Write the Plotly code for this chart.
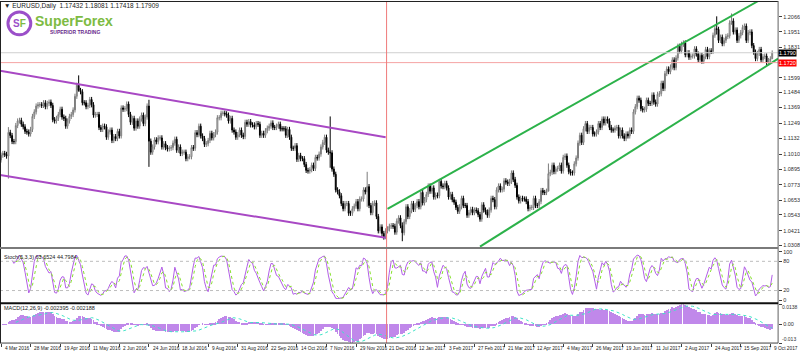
import numpy as np
import pandas as pd
import plotly.graph_objects as go

# ---------------- data (daily EURUSD) ----------------
closes = [
    1.1002,
    1.1015, 1.1008, 1.0995, 1.1177, 1.1153,
    1.1107, 1.1106, 1.1230, 1.1265, 1.1270,
    1.1240, 1.1220, 1.1185, 1.1180, 1.1165,
    1.1200, 1.1300, 1.1335, 1.1380, 1.1390,
    1.1390, 1.1385, 1.1405, 1.1375, 1.1400,
    1.1410, 1.1385, 1.1275, 1.1265, 1.1285,
    1.1315, 1.1355, 1.1295, 1.1285, 1.1225,
    1.1265, 1.1300, 1.1315, 1.1350, 1.1455,
    1.1540, 1.1500, 1.1490, 1.1405, 1.1405,
    1.1375, 1.1385, 1.1430, 1.1390, 1.1310,
    1.1315, 1.1315, 1.1215, 1.1200, 1.1225,
    1.1220, 1.1140, 1.1180, 1.1195, 1.1115,
    1.1145, 1.1130, 1.1185, 1.1150, 1.1365,
    1.1355, 1.1360, 1.1395, 1.1315, 1.1255,
    1.1285, 1.1210, 1.1265, 1.1225, 1.1280,
    1.1310, 1.1245, 1.1295, 1.1380, 1.1110,
    1.1025, 1.1065, 1.1120, 1.1105, 1.1135,
    1.1135, 1.1065, 1.1090, 1.1060, 1.1050,
    1.1055, 1.1060, 1.1095, 1.1125, 1.1040,
    1.1065, 1.1015, 1.1025, 1.1025, 1.0975,
    1.0990, 1.0990, 1.1060, 1.1055, 1.1175,
    1.1160, 1.1225, 1.1150, 1.1130, 1.1085,
    1.1090, 1.1115, 1.1170, 1.1135, 1.1160,
    1.1180, 1.1290, 1.1290, 1.1325, 1.1325,
    1.1320, 1.1310, 1.1265, 1.1285, 1.1195,
    1.1180, 1.1140, 1.1160, 1.1195, 1.1155,
    1.1145, 1.1255, 1.1240, 1.1260, 1.1235,
    1.1235, 1.1220, 1.1245, 1.1240, 1.1155,
    1.1170, 1.1155, 1.1190, 1.1210, 1.1225,
    1.1250, 1.1215, 1.1215, 1.1225, 1.1240,
    1.1205, 1.1205, 1.1205, 1.1155, 1.1200,
    1.1140, 1.1055, 1.1055, 1.1075, 1.0970,
    1.1000, 1.0975, 1.0975, 1.0930, 1.0885,
    1.0880, 1.0890, 1.0925, 1.0900, 1.0985,
    1.0980, 1.1010, 1.1065, 1.1100, 1.1140,
    1.1040, 1.1025, 1.1020, 1.0895, 1.0855,
    1.0735, 1.0720, 1.0690, 1.0630, 1.0590,
    1.0630, 1.0630, 1.0555, 1.0555, 1.0590,
    1.0610, 1.0645, 1.0590, 1.0665, 1.0665,
    1.0735, 1.0720, 1.0760, 1.0615, 1.0560,
    1.0630, 1.0635, 1.0530, 1.0420, 1.0450,
    1.0400, 1.0375, 1.0420, 1.0435, 1.0455,
    1.0460, 1.0455, 1.0410, 1.0495, 1.0520,
    1.0460, 1.0405, 1.0490, 1.0605, 1.0530,
    1.0575, 1.0630, 1.0585, 1.0615, 1.0645,
    1.0605, 1.0715, 1.0635, 1.0660, 1.0700,
    1.0765, 1.0725, 1.0750, 1.0680, 1.0695,
    1.0690, 1.0800, 1.0765, 1.0760, 1.0785,
    1.0750, 1.0680, 1.0700, 1.0660, 1.0640,
    1.0600, 1.0570, 1.0605, 1.0670, 1.0615,
    1.0615, 1.0540, 1.0560, 1.0585, 1.0560,
    1.0580, 1.0575, 1.0545, 1.0510, 1.0620,
    1.0580, 1.0565, 1.0540, 1.0580, 1.0670,
    1.0660, 1.0605, 1.0735, 1.0765, 1.0735,
    1.0740, 1.0805, 1.0795, 1.0785, 1.0800,
    1.0865, 1.0815, 1.0770, 1.0680, 1.0650,
    1.0670, 1.0665, 1.0665, 1.0645, 1.0590,
    1.0600, 1.0600, 1.0670, 1.0615, 1.0615,
    1.0645, 1.0730, 1.0715, 1.0715, 1.0725,
    1.0860, 1.0870, 1.0925, 1.0875, 1.0895,
    1.0900, 1.0925, 1.0880, 1.0985, 1.0995,
    1.0925, 1.0875, 1.0865, 1.0865, 1.0935,
    1.0980, 1.1095, 1.1155, 1.1100, 1.1205,
    1.1245, 1.1185, 1.1215, 1.1215, 1.1165,
    1.1165, 1.1180, 1.1245, 1.1215, 1.1280,
    1.1250, 1.1280, 1.1265, 1.1215, 1.1195,
    1.1195, 1.1210, 1.1215, 1.1150, 1.1195,
    1.1150, 1.1130, 1.1165, 1.1150, 1.1195,
    1.1185, 1.1335, 1.1375, 1.1440, 1.1425,
    1.1360, 1.1350, 1.1355, 1.1425, 1.1400,
    1.1400, 1.1465, 1.1410, 1.1395, 1.1470,
    1.1475, 1.1555, 1.1515, 1.1630, 1.1665,
    1.1645, 1.1680, 1.1735, 1.1675, 1.1750,
    1.1840, 1.1805, 1.1855, 1.1865, 1.1775,
    1.1790, 1.1755, 1.1765, 1.1765, 1.1820,
    1.1780, 1.1735, 1.1770, 1.1725, 1.1760,
    1.1815, 1.1760, 1.1805, 1.1800, 1.1925,
    1.1975, 1.1970, 1.1885, 1.1910, 1.1860,
    1.1885, 1.1915, 1.1920, 1.2020, 1.2035,
    1.1950, 1.1965, 1.1885, 1.1920, 1.1945,
    1.1985, 1.1995, 1.1885, 1.1945, 1.1950,
    1.1845, 1.1795, 1.1745, 1.1785, 1.1815,
    1.1735, 1.1760, 1.1765, 1.1715, 1.1730,
    1.1743, 1.17909,
]
first_open = 1.0965
last_open = 1.17432
wick_default = 0.0020
wick_overrides = {  # bar index: (high, low)
    4: (1.1218, 1.0822), 42: (1.1616, 1.1490), 80: (1.1428, 1.0912),
    178: (1.1300, 1.0905), 198: (1.0874, 1.0605), 207: (1.0420, 1.0352),
    217: (1.0485, 1.0340), 296: (1.0938, 1.0820), 387: (1.2070, 1.1930),
    395: (1.2092, 1.2005), 417: (1.18081, 1.17418),
}

x_tick_bars = [16 * i for i in range(27)]
x_tick_text = ["4 Mar 2016", "28 Mar 2016", "19 Apr 2016", "11 May 2016", "2 Jun 2016",
               "24 Jun 2016", "18 Jul 2016", "9 Aug 2016", "31 Aug 2016", "22 Sep 2016",
               "14 Oct 2016", "7 Nov 2016", "29 Nov 2016", "21 Dec 2016", "12 Jan 2017",
               "3 Feb 2017", "27 Feb 2017", "21 Mar 2017", "12 Apr 2017", "4 May 2017",
               "26 May 2017", "19 Jun 2017", "11 Jul 2017", "2 Aug 2017", "24 Aug 2017",
               "15 Sep 2017", "9 Oct 2017"]
price_ticks = [1.0308, 1.0421, 1.0543, 1.0653, 1.0773, 1.0895, 1.1010, 1.1132, 1.1249,
               1.1369, 1.1484, 1.1599, 1.1831, 1.1951, 1.2066]
price_range = [1.0291, 1.2188]
bid_price = 1.1790
red_level = 1.1714
red_label = "1.1720"
separator_bar = 208.5

purple_upper = [(-0.54, 1.1652), (208.0, 1.1140)]
purple_lower = [(-0.54, 1.0849), (208.0, 1.0367)]
green_upper = [(209.0, 1.0589), (409.5, 1.2188)]
green_lower = [(259.0, 1.0298), (420.2, 1.1744)]

header_text = "▼ EURUSD,Daily  1.17432 1.18081 1.17418 1.17909"
stoch_text = "Stoch(5,3,3) 63.6524 44.7984"
macd_text = "MACD(12,26,9) -0.002395 -0.002188"

# ---------------- OHLC construction ----------------
n = len(closes)
bars = list(range(n))
opens = [first_open] + closes[:-1]
opens[-1] = last_open
highs = [max(o, c) + wick_default for o, c in zip(opens, closes)]
lows = [min(o, c) - wick_default for o, c in zip(opens, closes)]
for i, (h, l) in wick_overrides.items():
    highs[i], lows[i] = h, l

H, L, C = pd.Series(highs), pd.Series(lows), pd.Series(closes)
hh, ll = H.rolling(5).max(), L.rolling(5).min()
stoch_k = 100 * (C - ll).rolling(3).sum() / (hh - ll).rolling(3).sum()
stoch_d = stoch_k.rolling(3).mean()
macd = C.ewm(span=12, adjust=False).mean() - C.ewm(span=26, adjust=False).mean()
macd_sig = macd.rolling(9).mean()
macd_max, macd_min = float(macd.max()), float(macd.min())

# ---------------- geometry helpers ----------------
W, Hpx = 800, 353
def py(p):
    return 1 - p / Hpx
def px(p):
    return p / W
XR = 783 / W

fig = go.Figure()
fig.add_trace(go.Candlestick(
    x=bars, open=opens, high=highs, low=lows, close=closes,
    increasing=dict(line=dict(color="#7c7c7c", width=1), fillcolor="white"),
    decreasing=dict(line=dict(color="black", width=1), fillcolor="black"),
    whiskerwidth=0, xaxis="x", yaxis="y", hoverinfo="skip"))
fig.add_trace(go.Scatter(x=bars, y=stoch_k, mode="lines", line=dict(color="#b25ee6", width=1),
                         xaxis="x", yaxis="y2"))
fig.add_trace(go.Scatter(x=bars, y=stoch_d, mode="lines", line=dict(color="#86e02c", width=1, dash="dot"),
                         xaxis="x", yaxis="y2"))
fig.add_trace(go.Bar(x=bars, y=macd, marker=dict(color="#c088ea", line=dict(width=0)), width=0.4,
                     xaxis="x", yaxis="y3"))
fig.add_trace(go.Scatter(x=bars, y=macd_sig, mode="lines", line=dict(color="#3fe3c6", width=1, dash="dot"),
                         xaxis="x", yaxis="y3"))

shapes = []
def seg(pts, color, width=2):
    (x0, y0), (x1, y1) = pts
    shapes.append(dict(type="line", xref="x", yref="y", x0=x0, y0=y0, x1=x1, y1=y1,
                       line=dict(color=color, width=width)))
seg(purple_upper, "#a848c4")
seg(purple_lower, "#a848c4")
seg(green_upper, "#2cb24a")
seg(green_lower, "#2cb24a")
shapes.append(dict(type="line", xref="paper", yref="y", x0=0, x1=XR, y0=bid_price, y1=bid_price,
                   line=dict(color="#cfcfcf", width=1)))
shapes.append(dict(type="line", xref="paper", yref="y", x0=0, x1=XR, y0=red_level, y1=red_level,
                   line=dict(color="#f5a3a3", width=1)))
for lv in (20, 80):
    shapes.append(dict(type="line", xref="paper", yref="y2", x0=0, x1=XR, y0=lv, y1=lv,
                       line=dict(color="#bdbdbd", width=1, dash="dot")))
shapes.append(dict(type="line", xref="x", yref="paper", x0=separator_bar, x1=separator_bar,
                   y0=py(344), y1=1, line=dict(color="#ef7a7a", width=1)))
shapes += [
    dict(type="line", xref="paper", yref="paper", x0=0, x1=XR, y0=py(0.5), y1=py(0.5), line=dict(color="#202020", width=1)),
    dict(type="line", xref="paper", yref="paper", x0=px(0.5), x1=px(0.5), y0=py(344), y1=1, line=dict(color="#202020", width=1)),
    dict(type="line", xref="paper", yref="paper", x0=XR, x1=XR, y0=py(344), y1=1, line=dict(color="#606060", width=1)),
    dict(type="line", xref="paper", yref="paper", x0=0, x1=XR, y0=py(248.5), y1=py(248.5), line=dict(color="#7a7a7a", width=2)),
    dict(type="line", xref="paper", yref="paper", x0=0, x1=XR, y0=py(304), y1=py(304), line=dict(color="#101010", width=2)),
    dict(type="line", xref="paper", yref="paper", x0=0, x1=XR, y0=py(344), y1=py(344), line=dict(color="#404040", width=1)),
]
shapes.append(dict(type="circle", xref="paper", yref="paper", x0=px(8), x1=px(31), y0=py(34), y1=py(11),
                   line=dict(color="#9b4fc9", width=3), fillcolor="white"))
shapes.append(dict(type="path", xref="paper", yref="paper",
                   path=f"M {px(19.5)},{py(11)} A {px(11.5)},{(11.5/Hpx)} 0 0 1 {px(19.5)},{py(34)}",
                   line=dict(color="#7dbb42", width=3)))

ann = []
FONT = "Liberation Sans, Arial, sans-serif"
for b, t in zip(x_tick_bars, x_tick_text):
    ann.append(dict(x=b + 0.9, y=py(349), xref="x", yref="paper", text=t, showarrow=False,
                    xanchor="left", yanchor="middle", font=dict(size=4.8, color="#202020", family=FONT)))
ann.append(dict(x=px(2), y=py(5), xref="paper", yref="paper", text=header_text, showarrow=False,
                xanchor="left", yanchor="middle", font=dict(size=6.5, color="#1a1a1a", family=FONT)))
ann.append(dict(x=px(2), y=py(257), xref="paper", yref="paper", text=stoch_text, showarrow=False,
                xanchor="left", yanchor="middle", font=dict(size=5.5, color="#1a1a1a", family=FONT)))
ann.append(dict(x=px(2), y=py(309), xref="paper", yref="paper", text=macd_text, showarrow=False,
                xanchor="left", yanchor="middle", font=dict(size=5.5, color="#1a1a1a", family=FONT)))
ann.append(dict(x=XR, y=bid_price, xref="paper", yref="y", text=f"{bid_price:.4f}", showarrow=False,
                xanchor="left", yanchor="middle", bgcolor="black", borderpad=0,
                font=dict(size=5.5, color="white", family=FONT)))
ann.append(dict(x=XR, y=red_level, xref="paper", yref="y", text=red_label, showarrow=False,
                xanchor="left", yanchor="middle", bgcolor="#ff0000", borderpad=0,
                font=dict(size=5.5, color="white", family=FONT)))
ann.append(dict(x=px(785), y=py(308), xref="paper", yref="paper", text=f"{macd_max:.4f}", showarrow=False,
                xanchor="left", yanchor="middle", font=dict(size=5, color="#303030", family=FONT)))
ann.append(dict(x=px(785), y=py(340), xref="paper", yref="paper", text=f"{macd_min:.3f}", showarrow=False,
                xanchor="left", yanchor="middle", font=dict(size=5, color="#303030", family=FONT)))
ann.append(dict(x=px(19.5), y=py(22.5), xref="paper", yref="paper",
                text="<b><span style='color:#9b4fc9'>S</span><span style='color:#7dbb42'>F</span></b>",
                showarrow=False, xanchor="center", yanchor="middle", font=dict(size=10, family=FONT)))
ann.append(dict(x=px(33), y=py(20), xref="paper", yref="paper", text="<b>SuperForex</b>", showarrow=False,
                xanchor="left", yanchor="middle", font=dict(size=14, color="#7dbb42", family=FONT)))
ann.append(dict(x=px(48), y=py(31.5), xref="paper", yref="paper", text="<b>SUPERIOR TRADING</b>", showarrow=False,
                xanchor="left", yanchor="middle", font=dict(size=5, color="#6a2b8c", family=FONT)))

tickfont = dict(size=5.5, color="#303030", family=FONT)
fig.update_layout(
    width=W, height=Hpx, margin=dict(l=0, r=0, t=0, b=0),
    paper_bgcolor="white", plot_bgcolor="white", showlegend=False, bargap=0,
    xaxis=dict(domain=[0, XR], range=[-0.54, 420.2], anchor="y3", showgrid=False, zeroline=False,
               tickvals=x_tick_bars, showticklabels=False, ticks="outside", ticklen=3,
               tickcolor="#404040", rangeslider=dict(visible=False), showline=False),
    yaxis=dict(domain=[py(248), 1], range=price_range, side="right", anchor="x", showgrid=False,
               zeroline=False, tickvals=price_ticks, ticktext=[f"{v:.4f}" for v in price_ticks],
               ticks="outside", ticklen=3, tickcolor="#404040", tickfont=tickfont),
    yaxis2=dict(domain=[py(303), py(250)], range=[-4.1, 104.1], side="right", anchor="x",
                showgrid=False, zeroline=False, tickvals=[0, 20, 80, 100],
                ticks="outside", ticklen=3, tickcolor="#404040", tickfont=tickfont),
    yaxis3=dict(domain=[py(344), py(305)], range=[macd_min, macd_max], side="right", anchor="x",
                showgrid=False, zeroline=False, tickvals=[macd_min, 0, macd_max],
                ticktext=["", "0.00", ""],
                ticks="outside", ticklen=3, tickcolor="#404040", tickfont=tickfont),
    shapes=shapes, annotations=ann,
)
fig.write_html("out.html")
